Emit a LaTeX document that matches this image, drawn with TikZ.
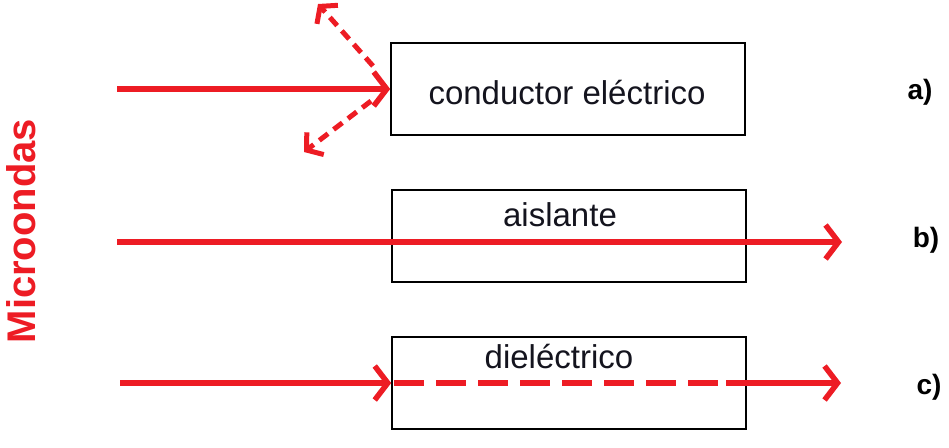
\documentclass[tikz,border=0pt]{standalone}
\usepackage{fontspec}
\setmainfont{Liberation Sans}
\usetikzlibrary{arrows.meta}
\definecolor{wred}{RGB}{237,28,36}
\definecolor{txt}{RGB}{20,20,30}
\tikzset{
  box/.style={draw=black, line width=1.6pt, minimum width=354pt, minimum height=92pt, inner sep=0pt},
  boxtext/.style={text=txt, font=\fontsize{33}{36}\selectfont, inner sep=0pt},
  lbl/.style={text=black, font=\fontsize{28}{32}\selectfont\bfseries, inner sep=0pt},
  wave/.style={draw=wred, line width=6.5pt, -{Straight Barb[length=13pt, width=34pt, line width=5.5pt]}},
  refl/.style={draw=wred, line width=5pt, dash pattern=on 11pt off 7pt, -{Straight Barb[length=11pt, width=28pt, line width=5pt]}},
  trans/.style={draw=wred, line width=6.5pt, dash pattern=on 30pt off 12pt}
}
\begin{document}
\begin{tikzpicture}[x=1pt,y=-1pt]
\useasboundingbox (0,0) rectangle (949,447);
% boxes
\node[box] (boxa) at (568,89) {};
\node[box] (boxb) at (569,236) {};
\node[box] (boxc) at (569,383) {};
% texts
\node[boxtext] (ta) at (567,93) {conductor eléctrico};
\node[boxtext] (tb) at (560,215) {aislante};
\node[boxtext] (tc) at (559,357) {dieléctrico};
% labels
\node[lbl] (la) at (920,92) {a)};
\node[lbl] (lb) at (926,240) {b)};
\node[lbl] (lc) at (929,387) {c)};
\node[text=wred, font=\fontsize{40}{44}\selectfont\bfseries, rotate=90, inner sep=0pt] (micro) at (21,231) {Microondas};
% a) reflection
\coordinate (a0) at (117,89);
\draw[wave] (a0) -- (boxa.west);
\coordinate (r1s) at (373,66);
\coordinate (r1e) at (318,4);
\coordinate (r2s) at (371,101);
\coordinate (r2e) at (304,152);
\draw[refl] (r1s) -- (r1e);
\draw[refl] (r2s) -- (r2e);
% b) transmission
\coordinate (b0) at (117,242);
\coordinate (b1) at (842,242);
\draw[wave] (b0) -- (b1);
% c) dielectric
\coordinate (c0) at (120,383);
\coordinate (c2) at (726,383);
\coordinate (c1) at (841,383);
\draw[wave] (c0) -- (boxc.west);
\draw[trans] ([xshift=3pt]boxc.west) -- (c2);
\draw[wave] (c2) -- (c1);
\end{tikzpicture}
\end{document}
